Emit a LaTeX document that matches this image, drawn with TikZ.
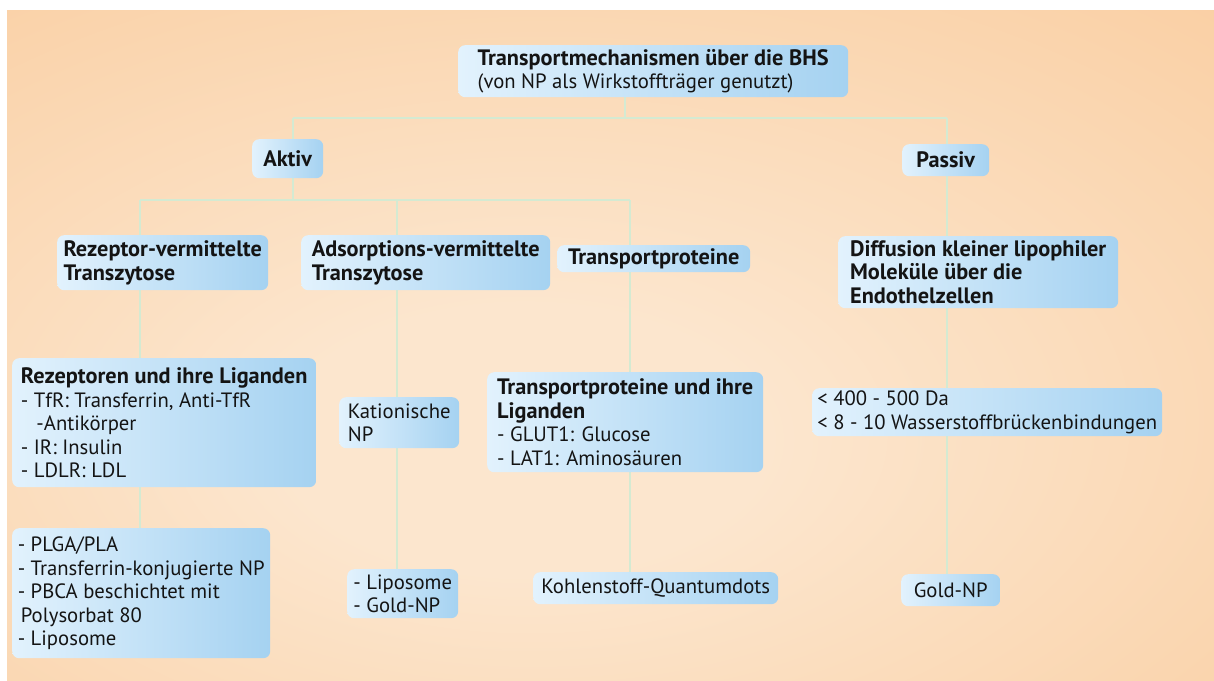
\documentclass[tikz,border=0pt]{standalone}
\usepackage{fontspec}
\setmainfont{PT Sans}
\pgfdeclarelayer{bgl}
\pgfdeclarelayer{lines}
\pgfsetlayers{bgl,lines,main}
\definecolor{peachL}{HTML}{FCE6CE}
\definecolor{peachD}{HTML}{F8C38D}
\definecolor{boxL}{HTML}{E2F2FD}
\definecolor{boxD}{HTML}{A5D2F1}
\definecolor{lineC}{HTML}{D4EAD2}
\pgfdeclareradialshading{bgshade}{\pgfpoint{-4bp}{-8bp}}{color(0bp)=(peachL); color(10bp)=(peachL); color(58bp)=(peachD); color(90bp)=(peachD)}
\newcommand\hb[1]{{\fontsize{22.3}{23.5}\selectfont\bfseries #1}}
\tikzset{
  box/.style={rounded corners=7pt, left color=boxL, right color=boxD, draw=none,
    inner xsep=3pt, inner ysep=1pt, align=left, anchor=north west, text=black!92,
    font=\fontsize{20.7}{23.5}\selectfont},
  conn/.style={draw=lineC, line width=1.6pt}
}
\begin{document}
\begin{tikzpicture}[x=1pt,y=-1pt]
\useasboundingbox (0,0) rectangle (1214,680);
\begin{pgfonlayer}{bgl}
\fill[white] (0,0) rectangle (1214,680);
\shade[shading=bgshade] (7,10) rectangle (1214,680);
\end{pgfonlayer}

\node[box, minimum width=390pt, minimum height=52pt] (top) at (458,45)
  {\hb{Transportmechanismen über die BHS}\\(von NP als Wirkstoffträger genutzt)};
\node[box, align=center, minimum width=71pt, minimum height=39pt] (aktiv) at (252,139) {\hb{Aktiv}};
\node[box, align=center, minimum width=87pt, minimum height=32pt] (passiv) at (902,144) {\hb{Passiv}};

\node[box, minimum width=211pt, minimum height=55pt] (rez) at (57,235)
  {\hb{Rezeptor-vermittelte}\\\hb{Transzytose}};
\node[box, minimum width=249pt, minimum height=55pt] (ads) at (301,235)
  {\hb{Adsorptions-vermittelte}\\\hb{Transzytose}};
\node[box, minimum width=193pt, minimum height=27pt] (tp) at (557,245)
  {\hb{Transportproteine}};
\node[box, minimum width=280pt, minimum height=72pt] (diff) at (838,236)
  {\hb{Diffusion kleiner lipophiler}\\\hb{Moleküle über die}\\\hb{Endothelzellen}};

\node[box, minimum width=304pt, minimum height=129pt] (rl) at (12,358)
  {\hb{Rezeptoren und ihre Liganden}\\- TfR: Transferrin, Anti-TfR\\\hspace*{0.75em}-Antikörper\\- IR: Insulin\\- LDLR: LDL};
\node[box, minimum width=120pt, minimum height=51pt] (kat) at (339,397)
  {Kationische\\NP};
\node[box, minimum width=276pt, minimum height=100pt] (tpl) at (487,372)
  {\hb{Transportproteine und ihre}\\\hb{Liganden}\\- GLUT1: Glucose\\- LAT1: Aminosäuren};
\node[box, minimum width=350pt, minimum height=48pt] (da) at (812,388)
  {< 400 - 500 Da\\< 8 - 10 Wasserstoffbrückenbindungen};

\node[box, minimum width=258pt, minimum height=130pt] (plga) at (12,528)
  {- PLGA/PLA\\- Transferrin-konjugierte NP\\- PBCA beschichtet mit\\\hspace*{0.15em}Polysorbat 80\\- Liposome};
\node[box, minimum width=111pt, minimum height=49pt] (lip) at (347,569)
  {- Liposome\\- Gold-NP};
\node[box, minimum width=245pt, minimum height=32pt] (kq) at (533,572)
  {Kohlenstoff-Quantumdots};
\node[box, minimum width=99pt, minimum height=32pt] (gold) at (901,574)
  {Gold-NP};

\coordinate (j0) at (625,118);
\coordinate (ja) at (293,118);
\coordinate (jp) at (947,118);
\coordinate (k0) at (293,200);
\coordinate (k1) at (140,200);
\coordinate (k2) at (397,200);
\coordinate (k3) at (630,200);

\begin{pgfonlayer}{lines}
\draw[conn] (j0 |- top.south) -- (j0);
\draw[conn] (ja) -- (jp);
\draw[conn] (ja) -- (ja |- aktiv.north);
\draw[conn] (jp) -- (jp |- passiv.north);
\draw[conn] (k0 |- aktiv.south) -- (k0);
\draw[conn] (k1) -- (k3);
\draw[conn] (k1) -- (k1 |- rez.north);
\draw[conn] (k1 |- rez.south) -- (k1 |- rl.north);
\draw[conn] (k1 |- rl.south) -- (k1 |- plga.north);
\draw[conn] (k2) -- (k2 |- ads.north);
\draw[conn] (k2 |- ads.south) -- (k2 |- kat.north);
\draw[conn] (k2 |- kat.south) -- (k2 |- lip.north);
\draw[conn] (k3) -- (k3 |- tp.north);
\draw[conn] (k3 |- tp.south) -- (k3 |- tpl.north);
\draw[conn] (k3 |- tpl.south) -- (k3 |- kq.north);
\draw[conn] (jp |- passiv.south) -- (jp |- diff.north);
\draw[conn] (jp |- diff.south) -- (jp |- da.north);
\draw[conn] (jp |- da.south) -- (jp |- gold.north);
\end{pgfonlayer}
\end{tikzpicture}
\end{document}
